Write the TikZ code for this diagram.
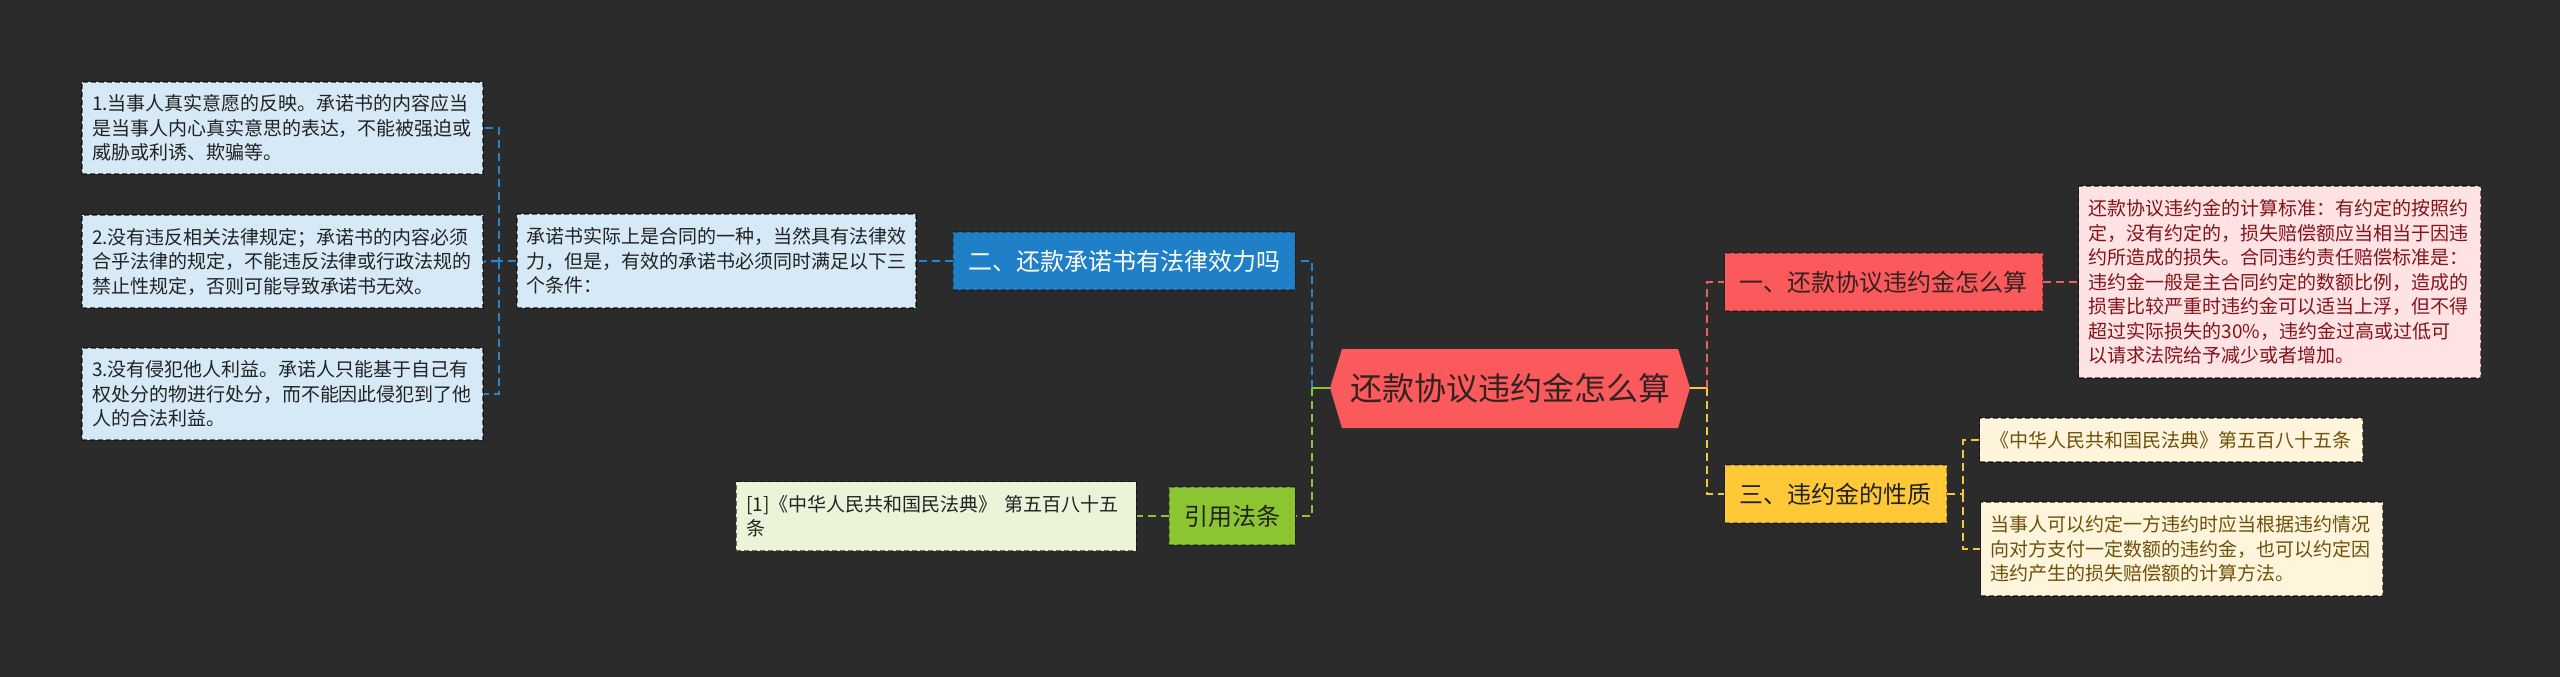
\documentclass[tikz,border=0pt]{standalone}
\usepackage{fontspec}
\setmainfont{Noto Sans CJK SC}
\usepackage{tikz}

\definecolor{bg}{RGB}{43,43,43}
\definecolor{ink}{RGB}{34,34,34}
\definecolor{leafblue}{RGB}{214,233,246}
\definecolor{topicblue}{RGB}{31,127,199}
\definecolor{lineblue}{RGB}{40,132,204}
\definecolor{topicgreen}{RGB}{139,197,50}
\definecolor{linegreen}{RGB}{139,197,50}
\definecolor{citegreen}{RGB}{233,244,216}
\definecolor{hubred}{RGB}{250,90,92}
\definecolor{hubink}{RGB}{51,34,34}
\definecolor{linered}{RGB}{232,98,100}
\definecolor{pinkbox}{RGB}{255,226,228}
\definecolor{pinkink}{RGB}{130,20,25}
\definecolor{topicyellow}{RGB}{255,200,55}
\definecolor{lineyellow}{RGB}{245,200,60}
\definecolor{cream}{RGB}{254,245,220}
\definecolor{creamink}{RGB}{110,80,10}

\begin{document}
\begin{tikzpicture}[x=1pt,y=-1pt,
  leaf/.style={draw=black,draw opacity=.55,line width=1.2pt,dash pattern=on 5pt off 3pt,
    inner xsep=10pt,inner ysep=0pt,align=left,text=ink,font=\fontsize{19}{24.5}\selectfont},
  topic/.style={draw=black,draw opacity=.35,line width=1.2pt,dash pattern=on 5pt off 3pt,
    inner xsep=15pt,minimum height=58pt,text=ink,font=\fontsize{24}{28}\selectfont},
  link/.style={line width=2.2pt,dash pattern=on 8pt off 5pt}]
\fill[bg] (0,0) rectangle (2560,677);
\useasboundingbox (0,0) rectangle (2560,677);

\node[leaf,fill=leafblue,text width=381pt,minimum height=92pt] (c1) at (282.5,128)
  {1.当事人真实意愿的反映。承诺书的内容应当\\是当事人内心真实意思的表达，不能被强迫或\\威胁或利诱、欺骗等。};
\node[leaf,fill=leafblue,text width=381pt,minimum height=93pt] (c2) at (282.5,261.5)
  {2.没有违反相关法律规定；承诺书的内容必须\\合乎法律的规定，不能违反法律或行政法规的\\禁止性规定，否则可能导致承诺书无效。};
\node[leaf,fill=leafblue,text width=381pt,minimum height=92pt] (c3) at (282.5,394)
  {3.没有侵犯他人利益。承诺人只能基于自己有\\权处分的物进行处分，而不能因此侵犯到了他\\人的合法利益。};
\node[leaf,fill=leafblue,text width=380pt,inner xsep=9.5pt,minimum height=94pt] (mid) at (716.5,261)
  {承诺书实际上是合同的一种，当然具有法律效\\力，但是，有效的承诺书必须同时满足以下三\\个条件：};

\node[topic,fill=topicblue,text=white,anchor=east] (q2) at (1296,261) {二、还款承诺书有法律效力吗};
\node[topic,fill=topicgreen,anchor=east] (law) at (1296,516) {引用法条};
\node[leaf,fill=citegreen,text width=380pt,minimum height=69pt,anchor=east] (cite) at (1137,516)
  {[1]《中华人民共和国民法典》 第五百八十五\\条};

\fill[hubred] (1330,388) -- (1342,349) -- (1678,349) -- (1690,388) -- (1678,428) -- (1342,428) -- cycle;
\node[minimum width=360pt,minimum height=79pt,inner sep=0pt,text=hubink,
  font=\fontsize{32}{36}\selectfont] (hub) at (1510,388) {还款协议违约金怎么算};

\node[topic,fill=hubred,text=hubink,anchor=west] (q1) at (1724,282) {一、还款协议违约金怎么算};
\node[leaf,fill=pinkbox,text=pinkink,text width=382pt,minimum height=192pt,anchor=west] (calc) at (2078,282)
  {还款协议违约金的计算标准：有约定的按照约\\定，没有约定的，损失赔偿额应当相当于因违\\约所造成的损失。合同违约责任赔偿标准是：\\违约金一般是主合同约定的数额比例，造成的\\损害比较严重时违约金可以适当上浮，但不得\\超过实际损失的30\%，违约金过高或过低可\\以请求法院给予减少或者增加。};
\node[topic,fill=topicyellow,anchor=west] (q3) at (1724,494) {三、违约金的性质};
\node[leaf,fill=cream,text=creamink,inner xsep=11pt,minimum height=44pt,anchor=west] (art) at (1979,440)
  {《中华人民共和国民法典》第五百八十五条};
\node[leaf,fill=cream,text=creamink,text width=382pt,minimum height=94pt,anchor=west] (note) at (1980,549)
  {当事人可以约定一方违约时应当根据违约情况\\向对方支付一定数额的违约金，也可以约定因\\违约产生的损失赔偿额的计算方法。};

\coordinate (jl) at (499,261);
\coordinate (jL) at (1312,388);
\coordinate (jR) at (1707,388);
\coordinate (jY) at (1963,494);

\draw[link,lineblue] (mid.west) -- (jl) |- (c1.east);
\draw[link,lineblue] (jl) |- (c3.east);
\draw[link,lineblue] (jl) -- (c2.east);
\draw[link,lineblue] (q2.west) -- (mid.east);
\draw[link,lineblue] (jL) |- (q2.east);
\draw[link,linegreen] (jL) |- (law.east);
\draw[line width=2.2pt,linegreen] (hub.west) -- (jL);
\draw[link,linegreen] (law.west) -- (cite.east);
\draw[line width=2.2pt,lineyellow] (hub.east) -- (jR);
\draw[link,linered] (jR) |- (q1.west);
\draw[link,lineyellow] (jR) |- (q3.west);
\draw[link,linered] (q1.east) -- (calc.west);
\draw[link,lineyellow] (q3.east) -- (jY) |- (art.west);
\draw[link,lineyellow] (jY) |- (note.west);
\end{tikzpicture}
\end{document}
